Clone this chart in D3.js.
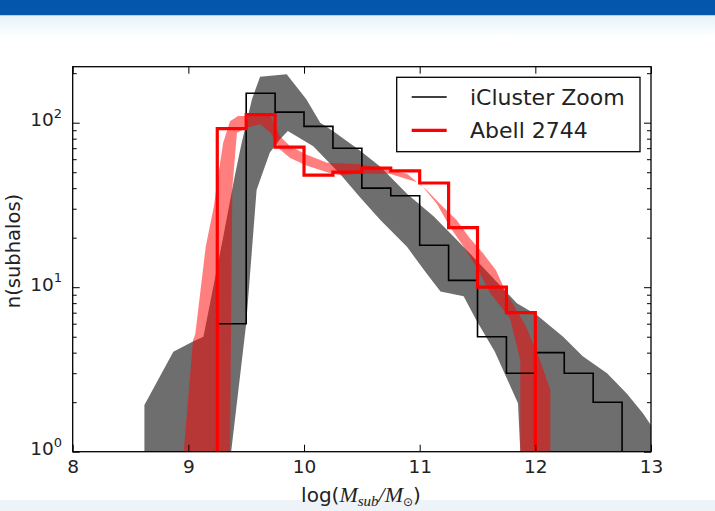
<!DOCTYPE html>
<html>
<head>
<meta charset="utf-8">
<script src="https://cdn.jsdelivr.net/npm/d3@7"></script>
<style>
  html, body { margin: 0; padding: 0; background: #ffffff; }
  svg { display: block; }
  text { font-family: "DejaVu Sans", sans-serif; fill: #222; }
</style>
</head>
<body>
<svg id="chart" width="715" height="511"></svg>
<script>
// Subhalo mass function: iCluster Zoom vs Abell 2744

// histogram bin edges (log mass)
const iclusterEdges = [9.25, 9.5, 9.75, 10.0, 10.25, 10.5, 10.75, 11.0, 11.25, 11.5, 11.75, 12.0, 12.25, 12.5, 12.75];
const iclusterCounts = [6, 151, 116, 95, 70, 40, 36, 18, 11, 5, 3, 4, 3, 2];

const abellEdges = [9.25, 9.5, 9.75, 10.0, 10.25, 10.5, 10.75, 11.0, 11.25, 11.5, 11.75, 12.0];
const abellCounts = [92, 112, 71, 48, 50, 53, 51, 43, 23, 10, 7];

// scatter envelope of the iCluster Zoom runs: [log M, n]
const iclusterBandUpper = [
  [8.62, 1], [8.62, 1.92], [8.87, 4.05], [9.04, 4.67], [9.13, 5.0], [9.3, 20], [9.4, 47],
  [9.46, 75], [9.55, 139], [9.62, 190], [9.85, 197], [10.02, 139], [10.14, 100],
  [10.25, 89], [10.48, 68], [10.66, 54], [10.89, 37], [11.12, 27], [11.32, 19.4],
  [11.49, 14.6], [11.84, 8], [12.01, 6.8], [12.24, 5.0], [12.41, 3.8], [12.62, 3.0],
  [12.79, 2.26], [12.93, 1.71], [13.0, 1.45], [13.0, 1]
];
const iclusterBandLower = [
  [11.87, 1], [11.85, 1.97], [11.65, 4.05], [11.49, 6.3], [11.38, 8.8], [11.18, 9.4],
  [11.06, 12.1], [10.89, 17.6], [10.66, 25.6], [10.48, 35.5], [10.31, 49], [10.08, 72],
  [9.86, 89], [9.79, 79], [9.705, 66], [9.63, 47], [9.59, 39], [9.5, 6.0], [9.37, 1]
];

// scatter envelope of the Abell 2744 estimate: [log M, n]
const abellBandUpper = [
  [8.96, 1], [9.04, 4.75], [9.06, 5.2], [9.15, 17.6], [9.22, 30.8], [9.30, 75],
  [9.36, 102], [9.43, 110], [9.5, 110], [9.62, 115], [9.71, 110], [9.79, 83],
  [9.88, 72], [10.02, 64], [10.2, 57], [10.48, 56], [10.66, 53], [10.89, 49],
  [11.06, 39], [11.2, 30.8], [11.32, 25.6], [11.43, 20], [11.55, 16], [11.66, 12.7],
  [11.75, 9.2], [11.92, 5.75], [12.04, 3.6], [12.13, 2.37], [12.13, 1]
];
const abellBandLower = [
  [11.87, 1], [11.87, 3.6], [11.78, 6.5], [11.61, 9.2], [11.49, 13.3], [11.38, 17.6],
  [11.26, 23.3], [11.15, 32], [11.0, 43], [10.74, 49], [10.48, 49], [10.31, 48],
  [10.2, 50], [10.02, 55], [9.88, 61], [9.79, 69], [9.71, 87], [9.62, 98], [9.5, 93],
  [9.42, 87], [9.38, 40], [9.36, 1]
];

const xTicks = [8, 9, 10, 11, 12, 13];
const yTicks = [1, 10, 100];
const yTickExponents = ["0", "1", "2"];
const seriesNames = ["iCluster Zoom", "Abell 2744"];

const svg = d3.select("#chart");
const W = 715, H = 511;
const plot = { left: 72.7, right: 651, top: 66.7, bottom: 451.7 };

// page backdrop: header bar and soft bands
const defs = svg.append("defs");
const grad = defs.append("linearGradient").attr("id", "headerFade")
  .attr("x1", 0).attr("y1", 0).attr("x2", 0).attr("y2", 1);
grad.append("stop").attr("offset", "0%").attr("stop-color", "#e6f3fa");
grad.append("stop").attr("offset", "100%").attr("stop-color", "#ffffff");
svg.append("rect").attr("x", 0).attr("y", 0).attr("width", W).attr("height", H).attr("fill", "#ffffff");
svg.append("rect").attr("x", 0).attr("y", 0).attr("width", W).attr("height", 15.5).attr("fill", "#0456ad");
svg.append("rect").attr("x", 0).attr("y", 15.5).attr("width", W).attr("height", 22).attr("fill", "url(#headerFade)");
svg.append("rect").attr("x", 0).attr("y", 500).attr("width", W).attr("height", 11).attr("fill", "#eef3f8");

const x = d3.scaleLinear().domain([8, 13]).range([plot.left, plot.right]);
const y = d3.scaleLog().domain([1, 219]).range([plot.bottom, plot.top]);

defs.append("clipPath").attr("id", "plotClip").append("rect")
  .attr("x", plot.left).attr("y", plot.top)
  .attr("width", plot.right - plot.left).attr("height", plot.bottom - plot.top);

const g = svg.append("g").attr("clip-path", "url(#plotClip)");

const area = d3.line().x(d => x(d[0])).y(d => y(d[1]));
const poly = (up, low) => area(up.concat(low)) + "Z";

// shaded envelopes
g.append("path").attr("d", poly(iclusterBandUpper, iclusterBandLower))
  .attr("fill", "#6e6e6e").attr("stroke", "none");
g.append("path").attr("d", poly(abellBandUpper, abellBandLower))
  .attr("fill", "#ff0000").attr("fill-opacity", 0.5).attr("stroke", "none");

// step histograms
function stepPoints(edges, counts) {
  const pts = [[edges[0], 1]];
  counts.forEach((c, i) => { pts.push([edges[i], c]); pts.push([edges[i + 1], c]); });
  pts.push([edges[edges.length - 1], 1]);
  return pts;
}
const stepLine = d3.line().x(d => x(d[0])).y(d => y(d[1]));

g.append("path").attr("d", stepLine(stepPoints(iclusterEdges, iclusterCounts)))
  .attr("fill", "none").attr("stroke", "#000").attr("stroke-width", 1.6);
g.append("path").attr("d", stepLine(stepPoints(abellEdges, abellCounts)))
  .attr("fill", "none").attr("stroke", "#ff0000").attr("stroke-width", 3.2)
  .attr("stroke-linejoin", "miter");

// axes: ticks point inward on all four sides
const minorTicks = [];
[1, 10, 100].forEach(dec => { for (let k = 2; k <= 9; k++) { const v = dec * k; if (v <= 219) minorTicks.push(v); } });

const axisG = svg.append("g");
axisG.append("g").attr("transform", `translate(0,${plot.bottom})`)
  .call(d3.axisBottom(x).tickValues(xTicks).tickSize(-7).tickPadding(8).tickFormat(d3.format("d")));
axisG.append("g").attr("transform", `translate(0,${plot.top})`)
  .call(d3.axisTop(x).tickValues(xTicks).tickSize(-7).tickFormat(""));
axisG.append("g").attr("transform", `translate(${plot.left},0)`)
  .call(d3.axisLeft(y).tickValues(yTicks).tickSize(-7).tickFormat(""));
axisG.append("g").attr("transform", `translate(${plot.right},0)`)
  .call(d3.axisRight(y).tickValues(yTicks).tickSize(-7).tickFormat(""));
axisG.append("g").attr("transform", `translate(${plot.left},0)`)
  .call(d3.axisLeft(y).tickValues(minorTicks).tickSize(-4).tickFormat(""));
axisG.append("g").attr("transform", `translate(${plot.right},0)`)
  .call(d3.axisRight(y).tickValues(minorTicks).tickSize(-4).tickFormat(""));

axisG.selectAll(".domain").remove();
axisG.selectAll(".tick line").attr("stroke", "#000").attr("stroke-width", 1);
axisG.selectAll(".tick text").attr("font-size", 18.5).attr("fill", "#222")
  .attr("font-family", "DejaVu Sans, sans-serif");

// frame
svg.append("rect").attr("x", plot.left).attr("y", plot.top)
  .attr("width", plot.right - plot.left).attr("height", plot.bottom - plot.top)
  .attr("fill", "none").attr("stroke", "#000").attr("stroke-width", 1.3);

// y tick labels as powers of ten
yTicks.forEach((v, i) => {
  const t = svg.append("text").attr("x", 62).attr("y", y(v) + 3.5)
    .attr("text-anchor", "end").attr("font-size", 18.5);
  t.append("tspan").text("10");
  t.append("tspan").attr("dy", -8.5).attr("font-size", 13).text(yTickExponents[i]);
});

// axis titles
svg.append("text").attr("transform", `translate(19.5,251) rotate(-90)`)
  .attr("text-anchor", "middle").attr("font-size", 19.5).text("n(subhalos)");

const xl = svg.append("text").attr("x", 361).attr("y", 502).attr("text-anchor", "middle").attr("font-size", 20);
xl.append("tspan").text("log(");
xl.append("tspan").attr("font-family", "Liberation Serif, serif").attr("font-style", "italic").attr("font-size", 22).text("M");
xl.append("tspan").attr("font-family", "Liberation Serif, serif").attr("font-style", "italic").attr("font-size", 15).attr("dy", 4).text("sub");
xl.append("tspan").attr("font-family", "Liberation Serif, serif").attr("font-style", "italic").attr("font-size", 22).attr("dy", -4).text("/M");
xl.append("tspan").attr("font-family", "DejaVu Sans, sans-serif").attr("font-size", 12).attr("dy", 4).text("⊙");
xl.append("tspan").attr("dy", -4).text(")");

// legend
const lg = svg.append("g");
lg.append("rect").attr("x", 396.7).attr("y", 77.3).attr("width", 243.3).attr("height", 74.4)
  .attr("fill", "#ffffff").attr("stroke", "#000").attr("stroke-width", 1.3);
const legendStyles = [{ color: "#000", width: 1.6 }, { color: "#ff0000", width: 3.2 }];
seriesNames.forEach((name, i) => {
  const yy = 97 + i * 33.3;
  lg.append("line").attr("x1", 411.7).attr("x2", 446.7).attr("y1", yy).attr("y2", yy)
    .attr("stroke", legendStyles[i].color).attr("stroke-width", legendStyles[i].width);
  lg.append("text").attr("x", 470).attr("y", yy + 8).attr("font-size", 22).text(name);
});
</script>
</body>
</html>
